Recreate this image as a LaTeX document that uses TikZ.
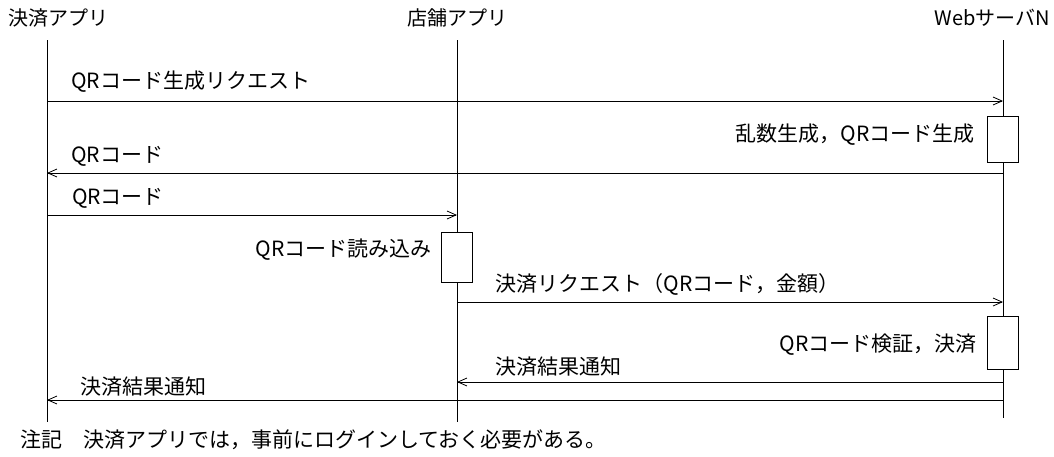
\documentclass[tikz,border=0pt]{standalone}
\usepackage{fontspec}
\setmainfont{Noto Sans CJK JP}
\usetikzlibrary{arrows.meta}
\begin{document}
\begin{tikzpicture}[x=1pt,y=-1pt,font=\fontsize{21}{23}\selectfont,
  msg/.style={-{Straight Barb[length=9pt,width=8pt]},line width=0.8pt},
  life/.style={line width=0.8pt},
  act/.style={draw,fill=white,line width=0.8pt,minimum width=31pt,inner sep=0pt},
  lbl/.style={inner sep=0pt},
  head/.style={inner sep=0pt,font=\fontsize{20}{22}\selectfont}]
\useasboundingbox (0,0) rectangle (1054,456);

% Lifeline heads
\node[head,anchor=west] (pay) at (8,18) {決済アプリ};
\node[head] (shop) at (457,18) {店舗アプリ};
\node[head,anchor=east] (web) at (1050,18) {WebサーバN};

% Lifelines
\coordinate (payT) at (47,40);  \coordinate (payB) at (47,422);
\coordinate (shopT) at (457,40); \coordinate (shopB) at (457,422);
\coordinate (webT) at (1003,40); \coordinate (webB) at (1003,418);
\draw[life] (payT) -- (payB);
\draw[life] (shopT) -- (shopB);
\draw[life] (webT) -- (webB);

% Activation boxes
\node[act,minimum height=46pt] (w1) at (1003,139) {};
\node[act,minimum height=50pt] (s1) at (457,257) {};
\node[act,minimum height=53pt] (w2) at (1003,343) {};
\node[lbl,anchor=east] at (975,135) {乱数生成，QRコード生成};
\node[lbl,anchor=east] at (432,250) {QRコード読み込み};
\node[lbl,anchor=east] at (977,345) {QRコード検証，決済};

% Messages
\coordinate (p1) at (47,101);  \coordinate (w1a) at (1003,101);
\draw[msg] (p1) -- node[lbl,pos=0.025,anchor=south west,yshift=8pt] {QRコード生成リクエスト} (w1a);
\coordinate (w2a) at (1003,173); \coordinate (p2) at (47,173);
\draw[msg] (w2a) -- node[lbl,pos=0.975,anchor=south west,yshift=6pt] {QRコード} (p2);
\coordinate (p3) at (47,215); \coordinate (s3) at (457,215);
\draw[msg] (p3) -- node[lbl,pos=0.06,anchor=south west,yshift=6pt] {QRコード} (s3);
\coordinate (s4) at (457,302); \coordinate (w4) at (1003,302);
\draw[msg] (s4) -- node[lbl,pos=0.07,anchor=south west,yshift=6pt] {決済リクエスト（QRコード，金額）} (w4);
\coordinate (w5) at (1003,382); \coordinate (s5) at (457,382);
\draw[msg] (w5) -- node[lbl,pos=0.93,anchor=south west,yshift=5pt] {決済結果通知} (s5);
\coordinate (w6) at (1003,400); \coordinate (p6) at (47,400);
\draw[msg] (w6) -- node[lbl,pos=0.965,anchor=south west,yshift=3pt] {決済結果通知} (p6);

% Note
\node[lbl,anchor=west] (note) at (20,440) {注記\quad 決済アプリでは，事前にログインしておく必要がある。};
\end{tikzpicture}
\end{document}
